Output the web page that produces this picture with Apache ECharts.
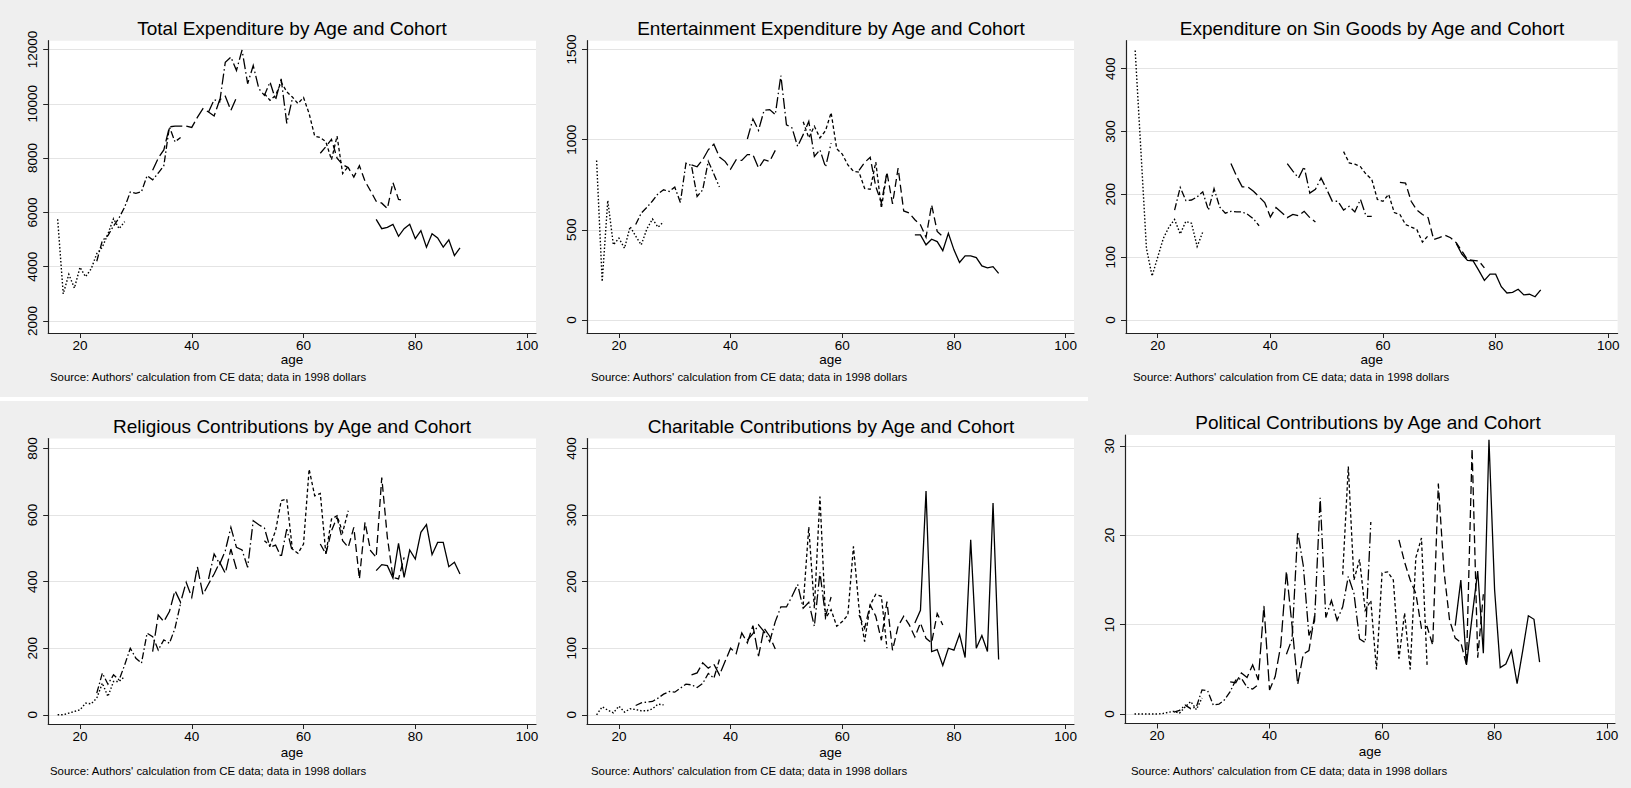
<!DOCTYPE html>
<html>
<head>
<meta charset="utf-8">
<script src="https://cdn.jsdelivr.net/npm/echarts@6/dist/echarts.min.js"></script>
<style>
  html, body { margin: 0; padding: 0; background: #efefef; }
  #chart { width: 1631px; height: 788px; }
</style>
</head>
<body>
<div id="chart"></div>
<script>
// ---------------- DATA ----------------
// Each cohort is observed over consecutive ages starting at cohortStart[k]
const cohortStart = [16, 23, 33, 43, 53, 63, 73];
const xTicks = [20, 40, 60, 80, 100];

const totalTicks = [2000, 4000, 6000, 8000, 10000, 12000];
const totalExp = [
  [5750, 3000, 3720, 3210, 3980, 3630, 3920, 4480, 4720, 5210, 5770, 5400, 5660],
  [4200, 4960, 5150, 5500, 5800, 6200, 6750, 6700, 6760, 7350, 7200, 7450, 7720, 9150, 8600, 8760],
  [7550, 8000, 8300, 9150, 9180, 9180, 9180, 9130, 9500, 9820, 9700, 9550, 10150, 10280, 9760, 10230],
  [9700, 10150, 10070, 11530, 11720, 11230, 11980, 10740, 11410, 10560, 10310, 10800, 10150, 10920, 9280, 10190],
  [10370, 10130, 10310, 10800, 10440, 10250, 10010, 10230, 9640, 8810, 8760, 8600, 7940, 8810, 7430, 7690],
  [8180, 8420, 8690, 8000, 7760, 7650, 7300, 7720, 7150, 6790, 6410, 6340, 6140, 7100, 6480, 6440],
  [5740, 5400, 5450, 5560, 5120, 5400, 5560, 5030, 5330, 4720, 5210, 5060, 4720, 4990, 4410, 4690]
];

const entTicks = [0, 500, 1000, 1500];
const entertainExp = [
  [885, 213, 663, 417, 454, 398, 518, 465, 417, 505, 560, 515, 545],
  [530, 593, 625, 660, 700, 722, 713, 737, 652, 870, 856, 685, 722, 880, 810, 737],
  [860, 850, 889, 944, 975, 904, 880, 837, 889, 885, 917, 917, 843, 889, 880, 941],
  [1004, 1115, 1052, 1163, 1167, 1139, 1356, 1083, 1065, 963, 1028, 1102, 907, 944, 848, 981],
  [1100, 1010, 1075, 1010, 1050, 1150, 950, 920, 860, 825, 820, 730, 725, 876, 620, 818],
  [830, 874, 902, 740, 650, 818, 644, 843, 605, 593, 556, 528, 459, 639, 491, 463],
  [472, 472, 417, 448, 435, 385, 481, 389, 319, 356, 356, 346, 300, 289, 296, 259]
];

const sinTicks = [0, 100, 200, 300, 400];
const sinGoodsExp = [
  [429, 272, 114, 70, 100, 130, 148, 160, 137, 157, 154, 117, 140],
  [175, 211, 190, 191, 196, 204, 175, 209, 180, 170, 173, 172, 172, 168, 161, 150],
  [249, 229, 212, 212, 205, 196, 187, 164, 179, 171, 163, 168, 166, 173, 163, 156],
  [249, 237, 226, 244, 202, 208, 226, 208, 189, 189, 175, 181, 172, 192, 165, 165],
  [268, 250, 248, 244, 232, 224, 192, 189, 200, 171, 168, 152, 148, 144, 124, 134],
  [219, 218, 189, 175, 168, 163, 128, 131, 135, 131, 123, 110, 96, 95, 94, 83],
  [122, 105, 95, 94, 79, 63, 73, 73, 53, 43, 44, 49, 40, 41, 37, 48]
];

const relTicks = [0, 200, 400, 600, 800];
const religiousContrib = [
  [0, 0, 5, 10, 15, 35, 33, 50, 95, 55, 100, 100, 115],
  [65, 125, 92, 120, 105, 150, 200, 170, 155, 245, 235, 195, 225, 215, 260, 335],
  [190, 300, 280, 310, 373, 338, 398, 353, 445, 361, 393, 423, 458, 425, 498, 438],
  [408, 483, 453, 493, 563, 503, 495, 443, 583, 571, 561, 503, 510, 473, 558, 490],
  [523, 508, 553, 643, 648, 498, 485, 513, 738, 658, 665, 483, 588, 598, 548, 613],
  [513, 483, 553, 593, 523, 503, 563, 408, 578, 493, 473, 713, 533, 413, 408, 473],
  [433, 451, 448, 411, 515, 413, 495, 468, 548, 571, 481, 518, 518, 445, 458, 423]
];

const charTicks = [0, 100, 200, 300, 400];
const charitableContrib = [
  [0, 12, 7, 3, 13, 4, 9, 8, 6, 6, 9, 16, 15],
  [14, 18, 19, 20, 25, 31, 35, 34, 40, 46, 45, 41, 47, 62, 55, 83],
  [60, 63, 78, 70, 76, 60, 80, 100, 92, 123, 108, 134, 88, 130, 118, 99],
  [112, 122, 135, 125, 110, 140, 162, 162, 178, 196, 160, 169, 133, 214, 148, 177],
  [165, 282, 160, 328, 145, 158, 133, 140, 150, 253, 160, 110, 165, 181, 178, 100],
  [150, 130, 165, 148, 112, 170, 97, 133, 148, 135, 117, 138, 115, 108, 152, 135],
  [138, 157, 336, 95, 98, 74, 100, 97, 121, 86, 263, 100, 119, 95, 318, 83]
];

const polTicks = [0, 10, 20, 30];
const politicalContrib = [
  [0, 0, 0, 0, 0, 0.05, 0.2, 0.3, 0.1, 0.8, 1.4, 0.5, 1.8],
  [0.2, 0.4, 1.0, 0.6, 0.8, 2.7, 2.6, 1.0, 1.1, 1.6, 2.5, 3.8, 4.0, 3.0, 2.8, 3.3],
  [3.6, 3.5, 4.6, 4.1, 5.5, 3.8, 12.1, 2.7, 4.2, 7.7, 16.0, 9.9, 3.3, 6.7, 7.1, 11.0],
  [6.7, 8.4, 20.4, 16.6, 8.8, 10.4, 24.2, 10.8, 12.7, 10.5, 12.0, 15.4, 13.5, 8.4, 8.0, 21.5],
  [15.6, 27.7, 15.0, 17.3, 11.6, 12.7, 5.0, 15.8, 15.9, 15.0, 6.2, 11.3, 5.0, 17.5, 19.7, 5.5],
  [19.5, 17.0, 15.0, 13.5, 9.6, 9.8, 7.7, 25.8, 16.0, 10.5, 8.5, 8.0, 5.5, 29.7, 6.3, 13.4],
  [9.9, 15.0, 5.5, 10.9, 16.0, 6.8, 30.7, 13.9, 5.2, 5.6, 7.1, 3.4, 7.1, 11.0, 10.6, 5.8]
];

const titles = [
  'Total Expenditure by Age and Cohort',
  'Entertainment Expenditure by Age and Cohort',
  'Expenditure on Sin Goods by Age and Cohort',
  'Religious Contributions by Age and Cohort',
  'Charitable Contributions by Age and Cohort',
  'Political Contributions by Age and Cohort'
];
const sourceNote = "Source: Authors' calculation from CE data; data in 1998 dollars";
const xName = 'age';

// ---------------- LAYOUT / STYLE ----------------
const FONT = '"Liberation Sans", Arial, Helvetica, sans-serif';
const panels = [
  { data: totalExp,          ticks: totalTicks, ymin: 1558, ymax: 12324, xmin: 14.31, xmax: 101.6,  g: { left: 48.2,  top: 40.7,  width: 487.8, height: 292.3 }, tx: 292,  ty: 28,   sx: 50,   sy: 376.5, gap: 19 },
  { data: entertainExp,      ticks: entTicks,   ymin: -72,  ymax: 1549,  xmin: 14.28, xmax: 101.5,  g: { left: 587,   top: 40.7,  width: 487,   height: 292.3 }, tx: 831,  ty: 28,   sx: 591,  sy: 376.5, gap: 19 },
  { data: sinGoodsExp,       ticks: sinTicks,   ymin: -20.7, ymax: 444.6, xmin: 14.37, xmax: 101.65, g: { left: 1126, top: 40.7,  width: 491.6, height: 292.3 }, tx: 1372, ty: 28,   sx: 1133, sy: 376.5, gap: 19 },
  { data: religiousContrib,  ticks: relTicks,   ymin: -27.6, ymax: 830,   xmin: 14.31, xmax: 101.6,  g: { left: 48.2,  top: 438.5, width: 487.8, height: 285.5 }, tx: 292,  ty: 426.5, sx: 50,  sy: 770.7, gap: 21 },
  { data: charitableContrib, ticks: charTicks,  ymin: -13.8, ymax: 415,   xmin: 14.28, xmax: 101.5,  g: { left: 587,   top: 438.5, width: 487,   height: 285.5 }, tx: 831,  ty: 426.5, sx: 591, sy: 770.7, gap: 21 },
  { data: politicalContrib,  ticks: polTicks,   ymin: -1.06, ymax: 31.23, xmin: 14.31, xmax: 101.4,  g: { left: 1125,  top: 435,   width: 490,   height: 288.5 }, tx: 1368, ty: 422,  sx: 1131, sy: 770.7, gap: 21 }
];

const dashPatterns = [
  [1.5, 2],              // cohort 1: dotted
  [7, 2.5, 1.5, 2.5],    // cohort 2: dash-dot
  [12, 4],               // cohort 3: long dash
  [11, 3, 1.5, 3],       // cohort 4: long dash-dot
  [3.5, 2.5],            // cohort 5: short dash
  [8, 4],                // cohort 6: dash
  'solid'                // cohort 7: solid
];

const grids = [], xAxes = [], yAxes = [], series = [], graphics = [];

// white separator between the two rows of graphs
graphics.push({ type: 'rect', shape: { x: 0, y: 397, width: 1088, height: 4 }, style: { fill: '#ffffff' }, silent: true });

panels.forEach((p, i) => {
  grids.push(Object.assign({ show: true, backgroundColor: '#ffffff', borderWidth: 0, containLabel: false }, p.g));
  xAxes.push({
    type: 'value', gridIndex: i, min: p.xmin, max: p.xmax,
    name: xName, nameLocation: 'middle', nameGap: p.gap,
    nameTextStyle: { fontFamily: FONT, fontSize: 13.5, color: '#000' },
    axisLine: { show: true, onZero: false, lineStyle: { color: '#222', width: 1.2 } },
    axisTick: { show: true, length: 5, customValues: xTicks, lineStyle: { color: '#222', width: 1 } },
    axisLabel: { customValues: xTicks, fontFamily: FONT, fontSize: 13.5, color: '#000', margin: 5, formatter: v => String(v) },
    splitLine: { show: false }
  });
  yAxes.push({
    type: 'value', gridIndex: i, min: p.ymin, max: p.ymax,
    axisLine: { show: true, onZero: false, lineStyle: { color: '#222', width: 1.2 } },
    axisTick: { show: true, length: 5, customValues: p.ticks, lineStyle: { color: '#222', width: 1 } },
    axisLabel: { customValues: p.ticks, rotate: 90, fontFamily: FONT, fontSize: 13.5, color: '#000', margin: 9, formatter: v => String(v) },
    splitLine: { show: true, lineStyle: { color: '#e4e4e4', width: 1.2 } }
  });
  p.data.forEach((vals, k) => {
    series.push({
      type: 'line', xAxisIndex: i, yAxisIndex: i,
      data: vals.map((v, j) => [cohortStart[k] + j, v]),
      showSymbol: false, symbol: 'none', silent: true,
      lineStyle: { color: '#000', width: k === 0 ? 1.4 : 1.3, type: dashPatterns[k], cap: 'butt', join: 'miter' },
      emphasis: { disabled: true }
    });
  });
  graphics.push({
    type: 'text', x: p.tx, y: p.ty, silent: true,
    style: { text: titles[i], fill: '#000', font: '19px ' + FONT, textAlign: 'center', textVerticalAlign: 'middle' }
  });
  graphics.push({
    type: 'text', x: p.sx, y: p.sy, silent: true,
    style: { text: sourceNote, fill: '#000', font: '11.4px ' + FONT, textAlign: 'left', textVerticalAlign: 'middle' }
  });
});

const chart = echarts.init(document.getElementById('chart'), null, { renderer: 'svg', width: 1631, height: 788 });
chart.setOption({
  animation: false,
  backgroundColor: '#efefef',
  grid: grids,
  xAxis: xAxes,
  yAxis: yAxes,
  series: series,
  graphic: graphics
});
</script>
</body>
</html>
